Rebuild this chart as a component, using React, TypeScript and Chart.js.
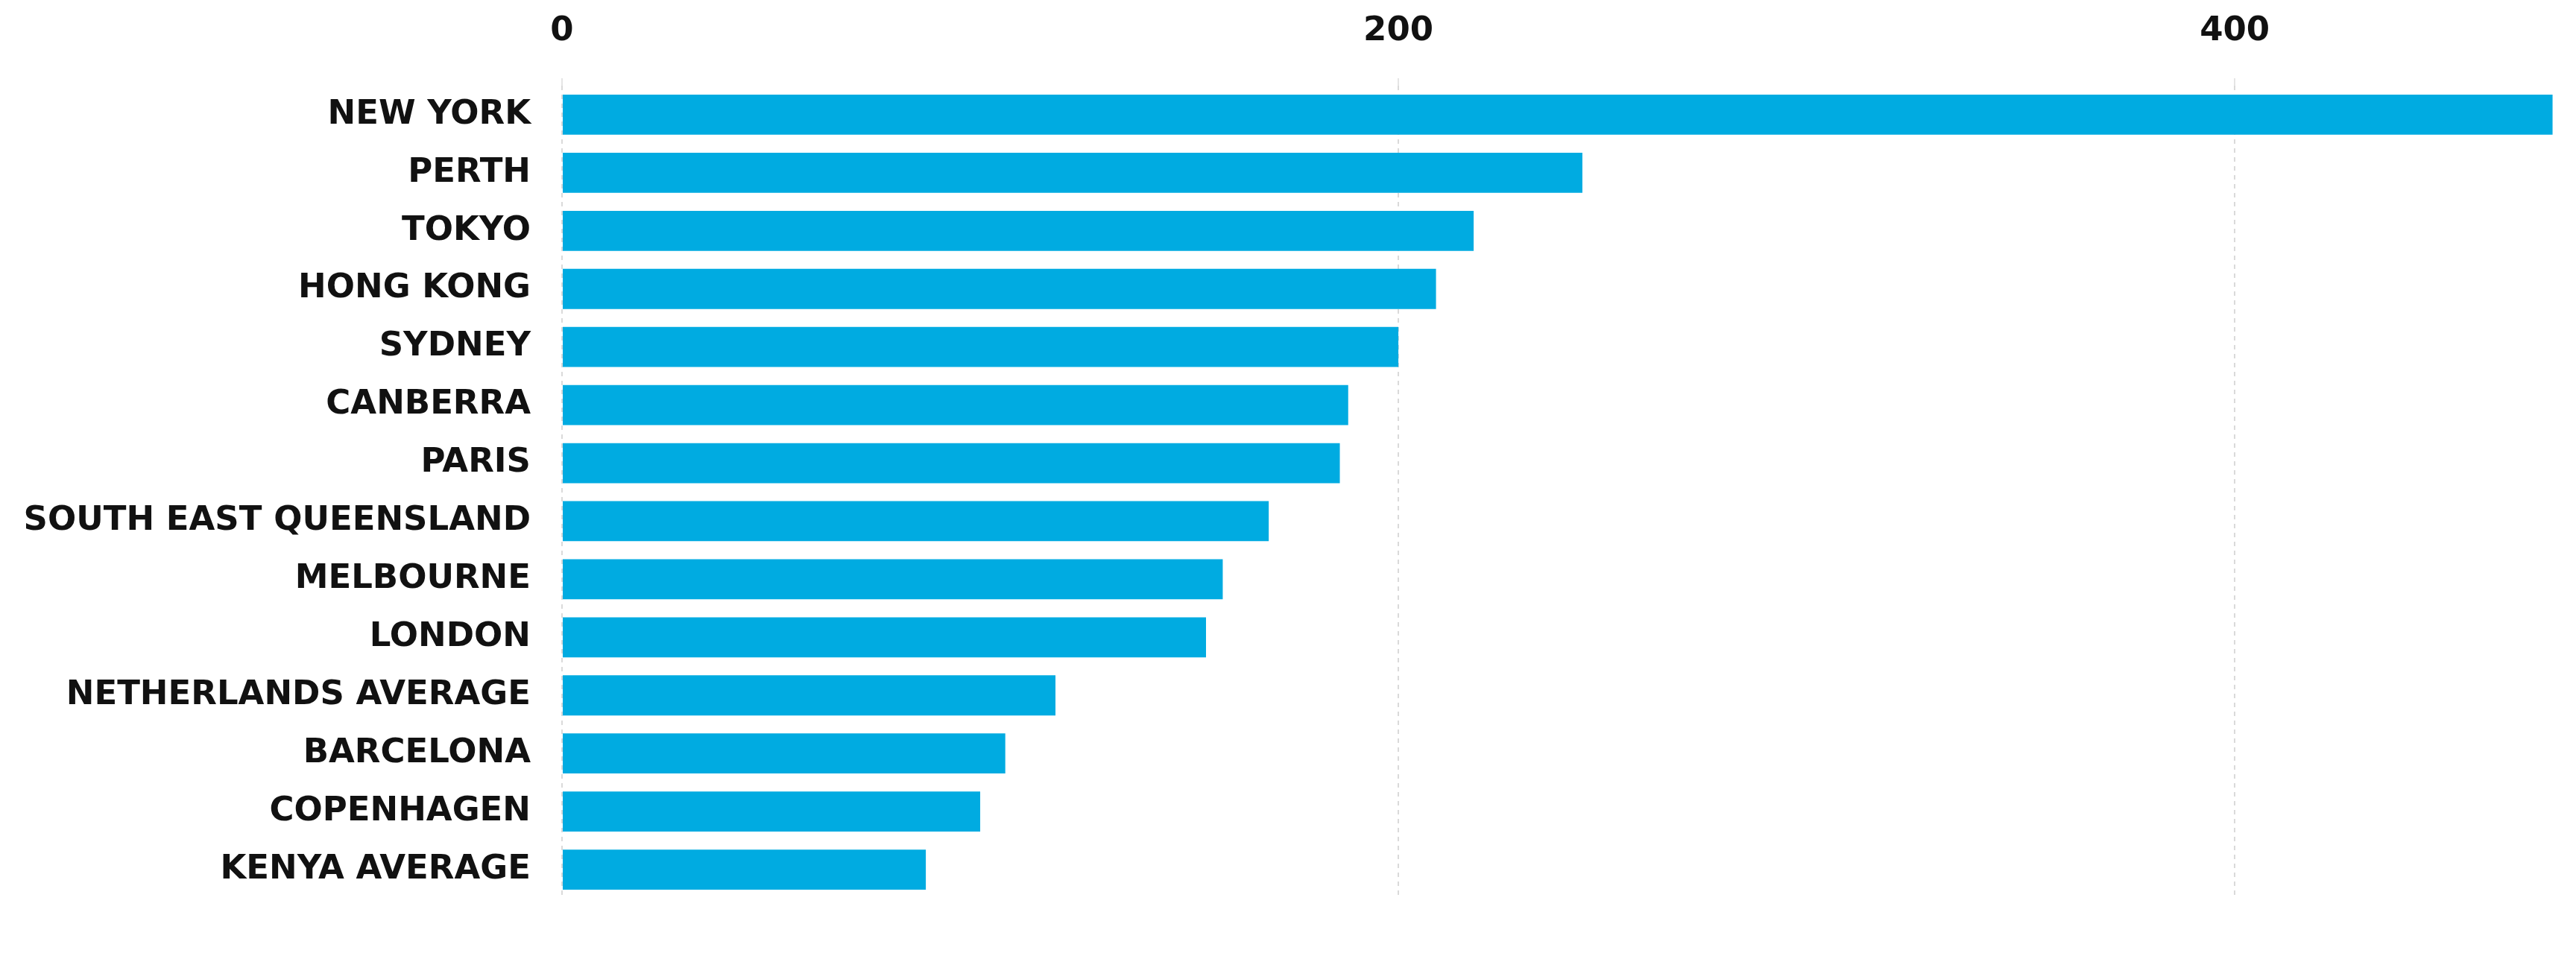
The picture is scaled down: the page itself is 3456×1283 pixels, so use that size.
import React, { useEffect, useRef } from "react";
import { Chart, registerables } from "chart.js";

Chart.register(...registerables);

const categories = [
  "NEW YORK",
  "PERTH",
  "TOKYO",
  "HONG KONG",
  "SYDNEY",
  "CANBERRA",
  "PARIS",
  "SOUTH EAST QUEENSLAND",
  "MELBOURNE",
  "LONDON",
  "NETHERLANDS AVERAGE",
  "BARCELONA",
  "COPENHAGEN",
  "KENYA AVERAGE",
];

const values = [476, 244, 218, 209, 200, 188, 186, 169, 158, 154, 118, 106, 100, 87];

const tickValues = [0, 200, 400];

export default function App() {
  const ref = useRef<HTMLCanvasElement | null>(null);

  useEffect(() => {
    if (!ref.current) return;
    const chart = new Chart(ref.current, {
      type: "bar",
      data: {
        labels: categories,
        datasets: [
          {
            data: values,
            backgroundColor: "#00ABE1",
            borderWidth: 0,
            categoryPercentage: 1,
            barPercentage: 0.69,
          },
        ],
      },
      options: {
        indexAxis: "y",
        animation: false,
        responsive: false,
        devicePixelRatio: 1,
        layout: { padding: { top: 0, right: 1, bottom: 38, left: 0 } },
        plugins: {
          legend: { display: false },
          tooltip: { enabled: false },
        },
        scales: {
          x: {
            position: "top",
            min: 0,
            max: 480,
            z: 1,
            afterBuildTicks: (s: any) => {
              s.ticks = tickValues.map((v) => ({ value: v }));
            },
            afterFit: (s: any) => {
              s.height = 107;
            },
            grid: {
              color: "rgba(150,150,150,0.35)",
              lineWidth: 2,
              tickLength: 10,
              tickColor: "rgba(150,150,150,0.25)",
            },
            border: { display: false, dash: [6, 6] },
            ticks: {
              padding: 36,
              color: "#111",
              font: {
                family: "'DejaVu Sans', sans-serif",
                size: 45,
                weight: "bold",
              },
            },
          },
          y: {
            afterFit: (s: any) => {
              s.width = 746;
            },
            grid: { display: false, drawTicks: false },
            border: { display: false },
            ticks: {
              padding: 42,
              color: "#111",
              autoSkip: false,
              font: {
                family: "'DejaVu Sans', sans-serif",
                size: 45,
                weight: "bold",
              },
            },
          },
        },
      },
    });
    return () => chart.destroy();
  }, []);

  return (
    <div style={{ width: 3440, height: 1267 }}>
      <canvas ref={ref} width={3440} height={1267} style={{ display: "block", width: 3440, height: 1267 }} />
    </div>
  );
}
